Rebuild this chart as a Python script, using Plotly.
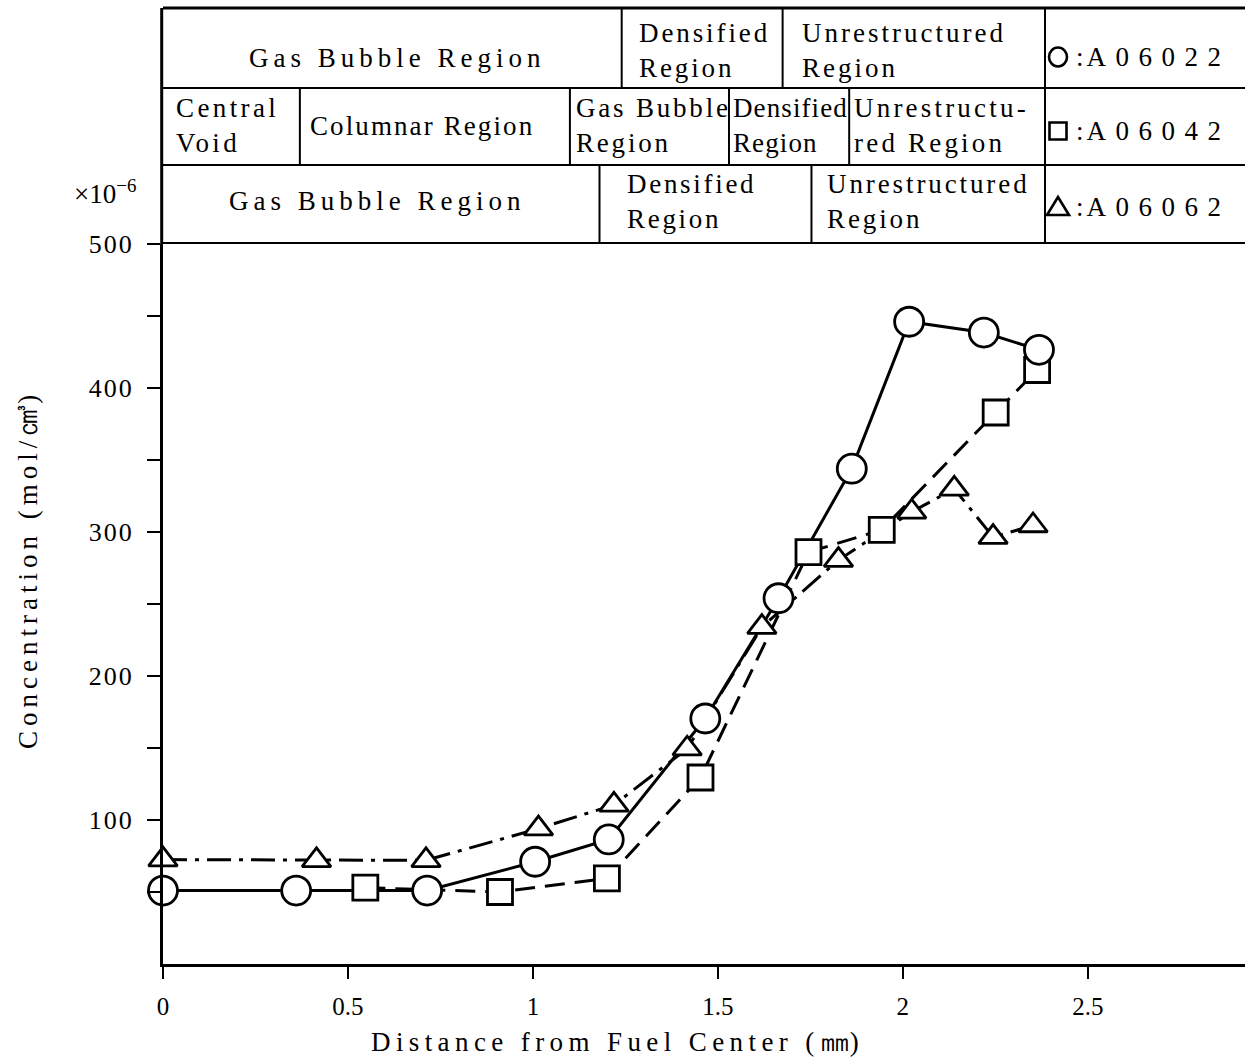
import plotly.graph_objects as go

# Radial profiles: distance from fuel centre (mm) and concentration (x10^-6 mol/cm3)
r_a06022 = [0.0, 0.36, 0.714, 1.006, 1.205, 1.466, 1.664, 1.862, 2.017, 2.219, 2.368]
c_a06022 = [51, 51, 51, 71, 86.5, 170.5, 254, 344, 446, 438.5, 426.5]

r_a06042 = [0.547, 0.911, 1.2, 1.453, 1.745, 1.943, 2.251, 2.363]
c_a06042 = [53, 50, 59.5, 129.5, 286, 301.5, 383, 412.5]

r_a06062 = [0.0, 0.415, 0.711, 1.015, 1.219, 1.417, 1.619, 1.826, 2.024, 2.139, 2.244, 2.352]
c_a06062 = [72.5, 72, 72, 94, 110.5, 149.5, 234, 280.5, 314, 330, 296.5, 304.5]

specimens = ["A06022", "A06042", "A06062"]

# Microstructure region boundaries (mm) for each specimen
bounds_a06022 = [1.24, 1.675]
bounds_a06042 = [0.37, 1.10, 1.53, 1.855]
bounds_a06062 = [1.18, 1.753]

x_ticks = [0, 0.5, 1, 1.5, 2, 2.5]
x_tick_labels = ["0", "0.5", "1", "1.5", "2", "2.5"]
y_ticks = [100, 200, 300, 400, 500]
y_tick_labels = ["100", "200", "300", "400", "500"]

# ---- page geometry (pixels) ----
W, H = 1245, 1061
L, R = 163, 1245          # plot area left / right
T, B = 244, 964           # plot area top / bottom
X_MAX = 2.925

FONT = "Liberation Serif"
FS = 27
BLACK = "#000000"


def pxx(x):
    """pixel column -> paper x"""
    return (x - L) / (R - L)


def pxy(y):
    """pixel row -> paper y"""
    return (B - y) / (B - T)


def spaced(text, sp):
    return "<br>".join(
        f'<span style="letter-spacing:{sp}px">{line}</span>' for line in text.split("<br>")
    )


fig = go.Figure()

line_styles = [
    dict(color=BLACK, width=3, dash="solid"),
    dict(color=BLACK, width=3, dash="20px,10px"),
    dict(color=BLACK, width=3, dash="24px,8px,4px,8px"),
]
marker_styles = [
    dict(symbol="circle", size=29),
    dict(symbol="square", size=25),
    dict(symbol="triangle-up", size=25),
]
series = [(r_a06022, c_a06022), (r_a06042, c_a06042), (r_a06062, c_a06062)]

# connecting lines first
for (xs, ys), ls, name in zip(series, line_styles, specimens):
    fig.add_trace(go.Scatter(x=xs, y=ys, mode="lines", line=ls, name=name,
                             showlegend=False, hoverinfo="skip", cliponaxis=False))

# open markers on top (squares, triangles, then circles)
for idx in (1, 2, 0):
    xs, ys = series[idx]
    ms = marker_styles[idx]
    fig.add_trace(go.Scatter(
        x=xs, y=ys, mode="markers", name=specimens[idx], showlegend=False,
        cliponaxis=False,
        marker=dict(symbol=ms["symbol"], size=ms["size"], color="white",
                    line=dict(color=BLACK, width=2.8)),
    ))

# ---- region table above the plot ----
row_edges = [8, 88, 165, 243]
shapes = []
# horizontal rules
shapes.append(dict(type="line", xref="paper", yref="paper", x0=0, x1=1,
                   y0=pxy(row_edges[0]), y1=pxy(row_edges[0]),
                   line=dict(color=BLACK, width=3)))
for ye in row_edges[1:]:
    shapes.append(dict(type="line", xref="paper", yref="paper", x0=0, x1=1,
                       y0=pxy(ye), y1=pxy(ye), line=dict(color=BLACK, width=2.2)))
# left border of table
shapes.append(dict(type="line", xref="paper", yref="paper", x0=pxx(L) - 0.0012,
                   x1=pxx(L) - 0.0012, y0=pxy(row_edges[0]), y1=1,
                   line=dict(color=BLACK, width=3)))
# legend column border
shapes.append(dict(type="line", xref="paper", yref="paper", x0=pxx(1045), x1=pxx(1045),
                   y0=pxy(row_edges[0]), y1=pxy(row_edges[3]),
                   line=dict(color=BLACK, width=2)))
# region boundaries, one row per specimen
for i, bounds in enumerate([bounds_a06022, bounds_a06042, bounds_a06062]):
    for b in bounds:
        shapes.append(dict(type="line", xref="x", yref="paper", x0=b, x1=b,
                           y0=pxy(row_edges[i + 1]), y1=pxy(row_edges[i]),
                           line=dict(color=BLACK, width=2)))

# legend marks drawn as outline shapes (pixel-sized, anchored in the legend column)
mark_x = pxx(1058)
legend_rows = [57, 131, 207]
mark_line = dict(color=BLACK, width=2.6)
shapes.append(dict(type="circle", xref="paper", yref="paper",
                   xsizemode="pixel", ysizemode="pixel",
                   xanchor=mark_x, yanchor=pxy(legend_rows[0]),
                   x0=-9, x1=9, y0=-9.5, y1=9.5, line=mark_line))
shapes.append(dict(type="rect", xref="paper", yref="paper",
                   xsizemode="pixel", ysizemode="pixel",
                   xanchor=mark_x, yanchor=pxy(legend_rows[1]),
                   x0=-8.5, x1=8.5, y0=-8.5, y1=8.5, line=mark_line))
shapes.append(dict(type="path", xref="paper", yref="paper",
                   xsizemode="pixel", ysizemode="pixel",
                   xanchor=mark_x, yanchor=pxy(legend_rows[2]),
                   path="M -11,-8 L 11,-8 L 0,10 Z", line=mark_line))

annotations = []


def cell(text, x, y, sp, anchor="left", size=FS):
    annotations.append(dict(
        text=spaced(text, sp) if sp else text, xref="paper", yref="paper",
        x=pxx(x), y=pxy(y), xanchor=anchor, yanchor="middle", align="left",
        showarrow=False, font=dict(family=FONT, size=size, color=BLACK),
    ))


# row 1 : A06022
cell("Gas Bubble Region", 397, 58, 5.0, anchor="center")
cell("Densified<br>Region", 637, 50, 2.9)
cell("Unrestructured<br>Region", 800, 50, 3.0)
# row 2 : A06042
cell("Central<br>Void", 174, 126, 3.4)
cell("Columnar Region", 422, 126, 2.1, anchor="center")
cell("Gas Bubble<br>Region", 574, 126, 2.8)
cell("Densified<br>Region", 731, 126, 1.1)
cell("Unrestructu-<br>red Region", 852, 126, 3.2)
# row 3 : A06062
cell("Gas Bubble Region", 377, 201, 5.0, anchor="center")
cell("Densified<br>Region", 625, 201, 2.7)
cell("Unrestructured<br>Region", 825, 201, 2.9)

# legend labels
for name, yy in zip(specimens, legend_rows):
    annotations.append(dict(
        text=f'<span style="letter-spacing:3px">:</span>'
             f'<span style="letter-spacing:9.5px">{name}</span>',
        xref="paper", yref="paper", x=pxx(1074), y=pxy(yy), xanchor="left",
        yanchor="middle", showarrow=False,
        font=dict(family=FONT, size=FS, color=BLACK)))

# exponent label above the y axis
annotations.append(dict(text="×10<sup>−6</sup>", xref="paper", yref="paper",
                        x=pxx(138), y=pxy(192), xanchor="right", yanchor="middle",
                        showarrow=False, font=dict(family=FONT, size=FS, color=BLACK)))

# axis titles (unit glyphs slightly enlarged)
annotations.append(dict(
    text='<span style="letter-spacing:5.4px">Distance from Fuel Center (</span>'
         '<span style="font-size:30px">㎜</span><span>)</span>',
    xref="paper", yref="paper", x=pxx(615), y=pxy(1040),
    xanchor="center", yanchor="middle", showarrow=False,
    font=dict(family=FONT, size=FS, color=BLACK)))
annotations.append(dict(
    text='<span style="letter-spacing:5px">Concentration (mol/</span>'
         '<span style="font-size:32px">㎤</span><span>)</span>',
    xref="paper", yref="paper", x=pxx(26), y=pxy(572),
    xanchor="center", yanchor="middle", textangle=-90, showarrow=False,
    font=dict(family=FONT, size=FS, color=BLACK)))

fig.update_layout(
    width=W, height=H,
    margin=dict(l=L, r=W - R, t=T, b=H - B, pad=0),
    paper_bgcolor="white", plot_bgcolor="white",
    shapes=shapes, annotations=annotations,
    showlegend=False,
    xaxis=dict(
        range=[0, X_MAX], showgrid=False, zeroline=False,
        showline=True, linecolor=BLACK, linewidth=3,
        ticks="outside", ticklen=12, tickwidth=2, tickcolor=BLACK,
        tickmode="array", tickvals=x_ticks, ticktext=x_tick_labels,
        tickfont=dict(family=FONT, size=25, color=BLACK), ticklabelstandoff=6,
    ),
    yaxis=dict(
        range=[0, 500], showgrid=False, zeroline=False,
        showline=True, linecolor=BLACK, linewidth=3,
        ticks="outside", ticklen=13, tickwidth=2, tickcolor=BLACK,
        tickmode="array", tickvals=y_ticks,
        ticktext=[spaced(t, 2) for t in y_tick_labels],
        tickfont=dict(family=FONT, size=26, color=BLACK), ticklabelstandoff=8,
        minor=dict(ticks="outside", ticklen=13, tickwidth=2, tickcolor=BLACK,
                   tickmode="linear", tick0=50, dtick=100),
    ),
)

fig.write_html("out.html")
